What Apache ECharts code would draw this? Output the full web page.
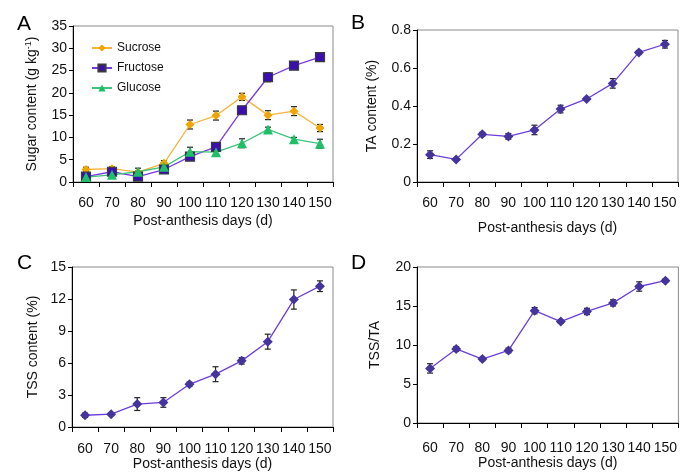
<!DOCTYPE html>
<html>
<head>
<meta charset="utf-8">
<script src="https://cdn.jsdelivr.net/npm/echarts@6/dist/echarts.min.js"></script>
<style>
  html, body { margin: 0; padding: 0; background: #fff; }
  #chart { width: 680px; height: 473px; }
</style>
</head>
<body>
<div id="chart"></div>
<script>
// categories
var days = ['60', '70', '80', '90', '100', '110', '120', '130', '140', '150'];

// panel A - sugar content (g/kg)
var sucrose = [2.8, 3.0, 2.2, 4.2, 12.9, 14.9, 19.1, 15.0, 15.9, 12.1];
var sucroseErr = [0.5, 0.4, 0.3, 0.6, 1.0, 1.0, 0.8, 1.0, 1.0, 0.8];
var fructose = [1.2, 2.3, 1.2, 2.8, 5.7, 7.9, 16.1, 23.5, 26.1, 28.0];
var fructoseErr = [0.3, 0.3, 0.3, 0.4, 0.4, 0.5, 0.6, 1.0, 0.4, 0.3];
var glucose = [1.1, 1.6, 2.3, 3.4, 6.8, 6.7, 8.7, 11.8, 9.6, 8.6];
var glucoseErr = [0.3, 0.3, 0.8, 0.6, 1.0, 0.5, 1.0, 0.5, 0.4, 1.0];

// panel B - TA content (%)
var ta = [0.144, 0.119, 0.251, 0.240, 0.274, 0.384, 0.437, 0.519, 0.682, 0.725];
var taErr = [0.02, 0.005, 0.01, 0.015, 0.025, 0.02, 0.008, 0.025, 0.01, 0.02];

// panel C - TSS content (%)
var tss = [1.1, 1.2, 2.15, 2.3, 4.0, 4.95, 6.2, 8.0, 11.95, 13.2];
var tssErr = [0.2, 0.1, 0.6, 0.45, 0.2, 0.7, 0.3, 0.7, 0.9, 0.5];

// panel D - TSS/TA
var ratio = [7.0, 9.5, 8.2, 9.3, 14.4, 13.0, 14.3, 15.4, 17.5, 18.25];
var ratioErr = [0.6, 0.3, 0.2, 0.3, 0.4, 0.2, 0.4, 0.4, 0.6, 0.2];

var FONT = 'Liberation Sans, Arial, sans-serif';
var purpleLine = '#6b3fd9';
var purpleDot = '#45349b';

var chart = echarts.init(document.getElementById('chart'));

function xAxisFor(gridIndex, nameGap, labelMargin) {
    return {
        type: 'category',
        gridIndex: gridIndex,
        data: days,
        boundaryGap: true,
        name: 'Post-anthesis days (d)',
        nameLocation: 'middle',
        nameGap: nameGap,
        nameTextStyle: { fontFamily: FONT, fontSize: 14, color: '#111' },
        axisLine: { lineStyle: { color: '#000', width: 1 } },
        axisTick: { show: true, length: 5, lineStyle: { color: '#000' } },
        axisLabel: { margin: labelMargin, fontFamily: FONT, fontSize: 14, color: '#111', interval: 0 },
        splitLine: { show: false }
    };
}

function yAxisFor(gridIndex, max, interval, name, nameGap) {
    return {
        type: 'value',
        gridIndex: gridIndex,
        min: 0,
        max: max,
        interval: interval,
        name: name,
        nameLocation: 'middle',
        nameRotate: 90,
        nameGap: nameGap,
        nameTextStyle: {
            fontFamily: FONT, fontSize: 14, color: '#111',
            rich: { sup: { fontFamily: FONT, fontSize: 9, verticalAlign: 'top', padding: [0, 0, 8, 0], color: '#111' } }
        },
        axisLine: { show: true, lineStyle: { color: '#000', width: 1 } },
        axisTick: { show: true, length: 4, lineStyle: { color: '#000' } },
        axisLabel: { margin: 6, fontFamily: FONT, fontSize: 14, color: '#111' },
        splitLine: { show: false }
    };
}

// error bars drawn as a custom series
function errorSeries(idx, values, errs) {
    var data = values.map(function (v, i) { return [i, v, errs[i]]; });
    return {
        type: 'custom',
        xAxisIndex: idx,
        yAxisIndex: idx,
        z: 1,
        silent: true,
        renderItem: function (params, api) {
            var i = api.value(0), v = api.value(1), e = api.value(2);
            var hi = api.coord([i, v + e]);
            var lo = api.coord([i, v - e]);
            var w = 3;
            var st = { stroke: '#222', lineWidth: 1.2 };
            return {
                type: 'group',
                children: [
                    { type: 'line', shape: { x1: hi[0], y1: hi[1], x2: lo[0], y2: lo[1] }, style: st },
                    { type: 'line', shape: { x1: hi[0] - w, y1: hi[1], x2: hi[0] + w, y2: hi[1] }, style: st },
                    { type: 'line', shape: { x1: lo[0] - w, y1: lo[1], x2: lo[0] + w, y2: lo[1] }, style: st }
                ]
            };
        },
        data: data
    };
}

function lineSeries(idx, name, values, lineColor, markColor, symbol, size, border) {
    return {
        name: name,
        type: 'line',
        xAxisIndex: idx,
        yAxisIndex: idx,
        z: 3,
        data: values,
        symbol: symbol,
        symbolSize: size,
        showAllSymbol: true,
        lineStyle: { color: lineColor, width: 1.3 },
        itemStyle: { color: markColor, borderColor: border || markColor, borderWidth: border ? 1.2 : 0 },
        emphasis: { disabled: true },
        animation: false
    };
}

var gridBox = { show: true, borderColor: '#8a8a8a', borderWidth: 1, backgroundColor: 'transparent' };

chart.setOption({
    animation: false,
    textStyle: { fontFamily: FONT },
    title: [
        { text: 'A', left: 12, top: 9, textStyle: { fontFamily: FONT, fontSize: 21, fontWeight: 'normal', color: '#000' } },
        { text: 'B', left: 346, top: 8, textStyle: { fontFamily: FONT, fontSize: 21, fontWeight: 'normal', color: '#000' } },
        { text: 'C', left: 12, top: 248, textStyle: { fontFamily: FONT, fontSize: 21, fontWeight: 'normal', color: '#000' } },
        { text: 'D', left: 346, top: 248, textStyle: { fontFamily: FONT, fontSize: 21, fontWeight: 'normal', color: '#000' } }
    ],
    legend: {
        data: ['Sucrose', 'Fructose', 'Glucose'],
        orient: 'vertical',
        left: 86,
        top: 37,
        itemWidth: 20,
        itemHeight: 9,
        itemGap: 8,
        textStyle: { fontFamily: FONT, fontSize: 12, color: '#111' }
    },
    grid: [
        Object.assign({ left: 73, top: 26, width: 260, height: 156 }, gridBox),
        Object.assign({ left: 417, top: 30, width: 261, height: 152 }, gridBox),
        Object.assign({ left: 72, top: 267, width: 261, height: 160 }, gridBox),
        Object.assign({ left: 417, top: 267, width: 262, height: 156 }, gridBox)
    ],
    xAxis: [
        xAxisFor(0, 32, 14),
        xAxisFor(1, 39, 14),
        xAxisFor(2, 28, 15),
        xAxisFor(3, 32, 18)
    ],
    yAxis: [
        yAxisFor(0, 35, 5, 'Sugar content (g kg{sup|-1})', 32),
        yAxisFor(1, 0.8, 0.2, 'TA content (%)', 38),
        yAxisFor(2, 15, 3, 'TSS content (%)', 32),
        yAxisFor(3, 20, 5, 'TSS/TA', 35)
    ],
    series: [
        errorSeries(0, sucrose, sucroseErr),
        errorSeries(0, fructose, fructoseErr),
        errorSeries(0, glucose, glucoseErr),
        lineSeries(0, 'Sucrose', sucrose, '#f5b43c', '#f0a400', 'diamond', 9),
        lineSeries(0, 'Fructose', fructose, '#7a3ae2', '#3a0fae', 'rect', 9, '#3b3b3b'),
        lineSeries(0, 'Glucose', glucose, '#3cc47c', '#1fbf68', 'triangle', 10),
        errorSeries(1, ta, taErr),
        lineSeries(1, 'TA', ta, purpleLine, purpleDot, 'diamond', 10),
        errorSeries(2, tss, tssErr),
        lineSeries(2, 'TSS', tss, purpleLine, purpleDot, 'diamond', 10),
        errorSeries(3, ratio, ratioErr),
        lineSeries(3, 'TSS/TA', ratio, purpleLine, purpleDot, 'diamond', 10)
    ]
});
</script>
</body>
</html>
